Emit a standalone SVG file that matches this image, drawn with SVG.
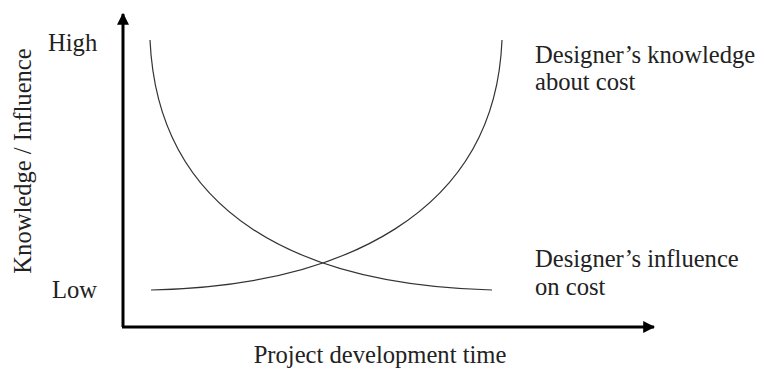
<svg xmlns="http://www.w3.org/2000/svg" width="758" height="370" viewBox="0 0 758 370">
<style>
text{font-family:"Liberation Serif","Times New Roman",serif;font-size:24.6px;fill:#222}
.axis{stroke:#000;stroke-width:3;fill:none}
.curve{stroke:#333;stroke-width:1.2;fill:none}
</style>
<defs>
<marker id="ah" viewBox="0 0 10 10" refX="9" refY="5" markerWidth="4" markerHeight="4" markerUnits="strokeWidth" orient="auto">
<path d="M0,0 L10,5 L0,10 z" fill="#000"/>
</marker>
</defs>
<rect width="758" height="370" fill="#fff"/>
<g id="connectors">
<path class="axis" d="M123,327 L123,14" marker-end="url(#ah)"/>
<path class="axis" d="M122,327 L654,327" marker-end="url(#ah)"/>
</g>
<g id="knowledge-curve">
<path class="curve" d="M151,290 C340,286 495,215 502,40"/>
</g>
<g id="influence-curve">
<path class="curve" d="M150,40 C158,215 300,285 492,290"/>
</g>
<g id="labels">
<text x="48" y="51">High</text>
<text x="52" y="298">Low</text>
<text x="535" y="63">Designer’s knowledge</text>
<text x="535" y="90">about cost</text>
<text x="535" y="267">Designer’s influence</text>
<text x="535" y="295">on cost</text>
<text x="380" y="363" text-anchor="middle">Project development time</text>
<text transform="translate(31,161) rotate(-90)" text-anchor="middle">Knowledge / Influence</text>
</g>
</svg>
